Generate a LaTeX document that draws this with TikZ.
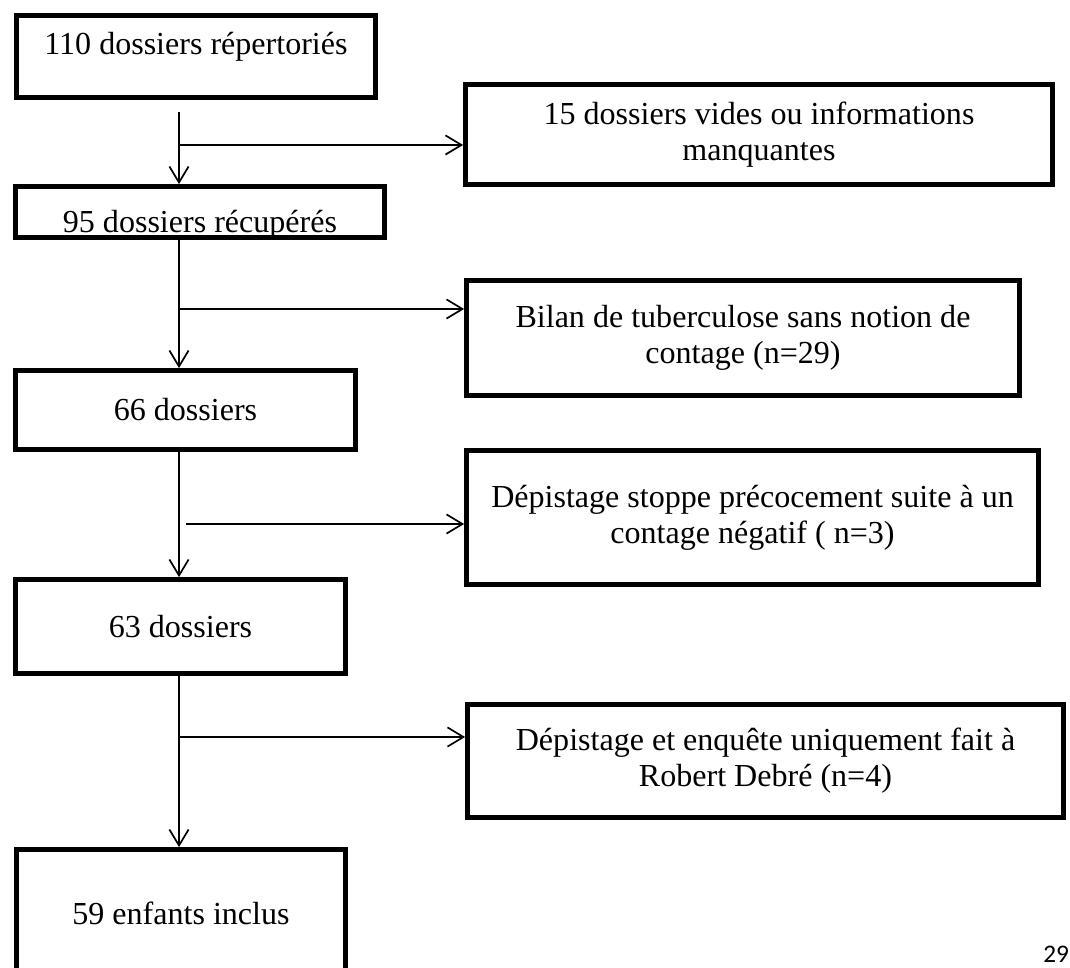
\documentclass[tikz,border=0pt]{standalone}
\usepackage{fontspec}
\setmainfont{Liberation Serif}
\newfontfamily\pagefont{Carlito}
\usepackage{tikz}
\usetikzlibrary{arrows.meta}
\usetikzlibrary{positioning}
\tikzstyle{process} = [rectangle, draw=black, line width=3.4pt, align=center, font=\fontsize{22.8}{25.6}\selectfont]
\tikzstyle{arrow} = [line width=1.2pt, ->, >={Straight Barb[length=0.4cm, width=0.48cm]}]

\begin{document}
\begin{tikzpicture}
    \useasboundingbox (0,0) rectangle (26.75,-24.2);
    % left column
    \node(rep)[process, minimum width=8.975cm, minimum height=2.05cm, text height=0.3cm, text depth=0.375cm] at (4.9,-1.4125) {110 dossiers répertoriés};
    \node(recup)[node distance=3.8875cm, process, below of=rep, xshift=0.1cm, minimum width=9.225cm, minimum height=1.275cm, inner sep=0.1cm, text height=1.05cm, text depth=0cm] {95 dossiers récupérés};
    \node(d66)[node distance=4.95cm, process, below of=recup, xshift=-0.3625cm, minimum width=8.5cm, minimum height=1.975cm] {66 dossiers};
    \node(d63)[node distance=5.4125cm, process, below of=d66, xshift=-0.125cm, minimum width=8.25cm, minimum height=2.35cm] {63 dossiers};
    \node(inclus)[node distance=7.175cm, process, below of=d63, xshift=0.0125cm, minimum width=8.225cm, minimum height=3.2cm] {59 enfants inclus};
    % right column
    \node(vides)[node distance=14.075cm, process, right of=rep, yshift=-1.95cm, minimum width=14.675cm, minimum height=2.5cm] {15 dossiers vides ou informations\\manquantes};
    \node(bilan)[node distance=5.0875cm, process, below of=vides, xshift=-0.4cm, minimum width=13.825cm, minimum height=2.875cm] {Bilan de tuberculose sans notion de\\contage (n=29)};
    \node(stoppe)[node distance=4.4875cm, process, below of=bilan, xshift=0.2375cm, minimum width=14.3cm, minimum height=3.35cm] {Dépistage stoppe précocement suite à un\\contage négatif ( n=3)};
    \node(robert)[node distance=6.0875cm, process, below of=stoppe, xshift=0.325cm, minimum width=14.9cm, minimum height=2.825cm] {Dépistage et enquête uniquement fait à\\Robert Debré (n=4)};
    %
    \node(page)[anchor=north west, inner sep=0pt, font=\pagefont\fontsize{18}{18}\selectfont] at (26.075,-23.65) {29};
    %
    \coordinate(t1) at (4.475,-2.8);
    \coordinate(b1) at (4.475,-3.625);
    \coordinate(b2) at (4.475,-7.725);
    \coordinate(b3) at (4.65,-13.1);
    \coordinate(b4) at (4.475,-18.425);
    %
    \draw[arrow](t1) -- (t1 |- recup.north);
    \draw[arrow](b1) -- (b1 -| vides.west);
    \draw[arrow](recup.south -| t1) -- (t1 |- d66.north);
    \draw[arrow](b2) -- (b2 -| bilan.west);
    \draw[arrow](d66.south -| t1) -- (t1 |- d63.north);
    \draw[arrow](b3) -- (b3 -| stoppe.west);
    \draw[arrow](d63.south -| t1) -- (t1 |- inclus.north);
    \draw[arrow](b4) -- (b4 -| robert.west);
\end{tikzpicture}
\end{document}
